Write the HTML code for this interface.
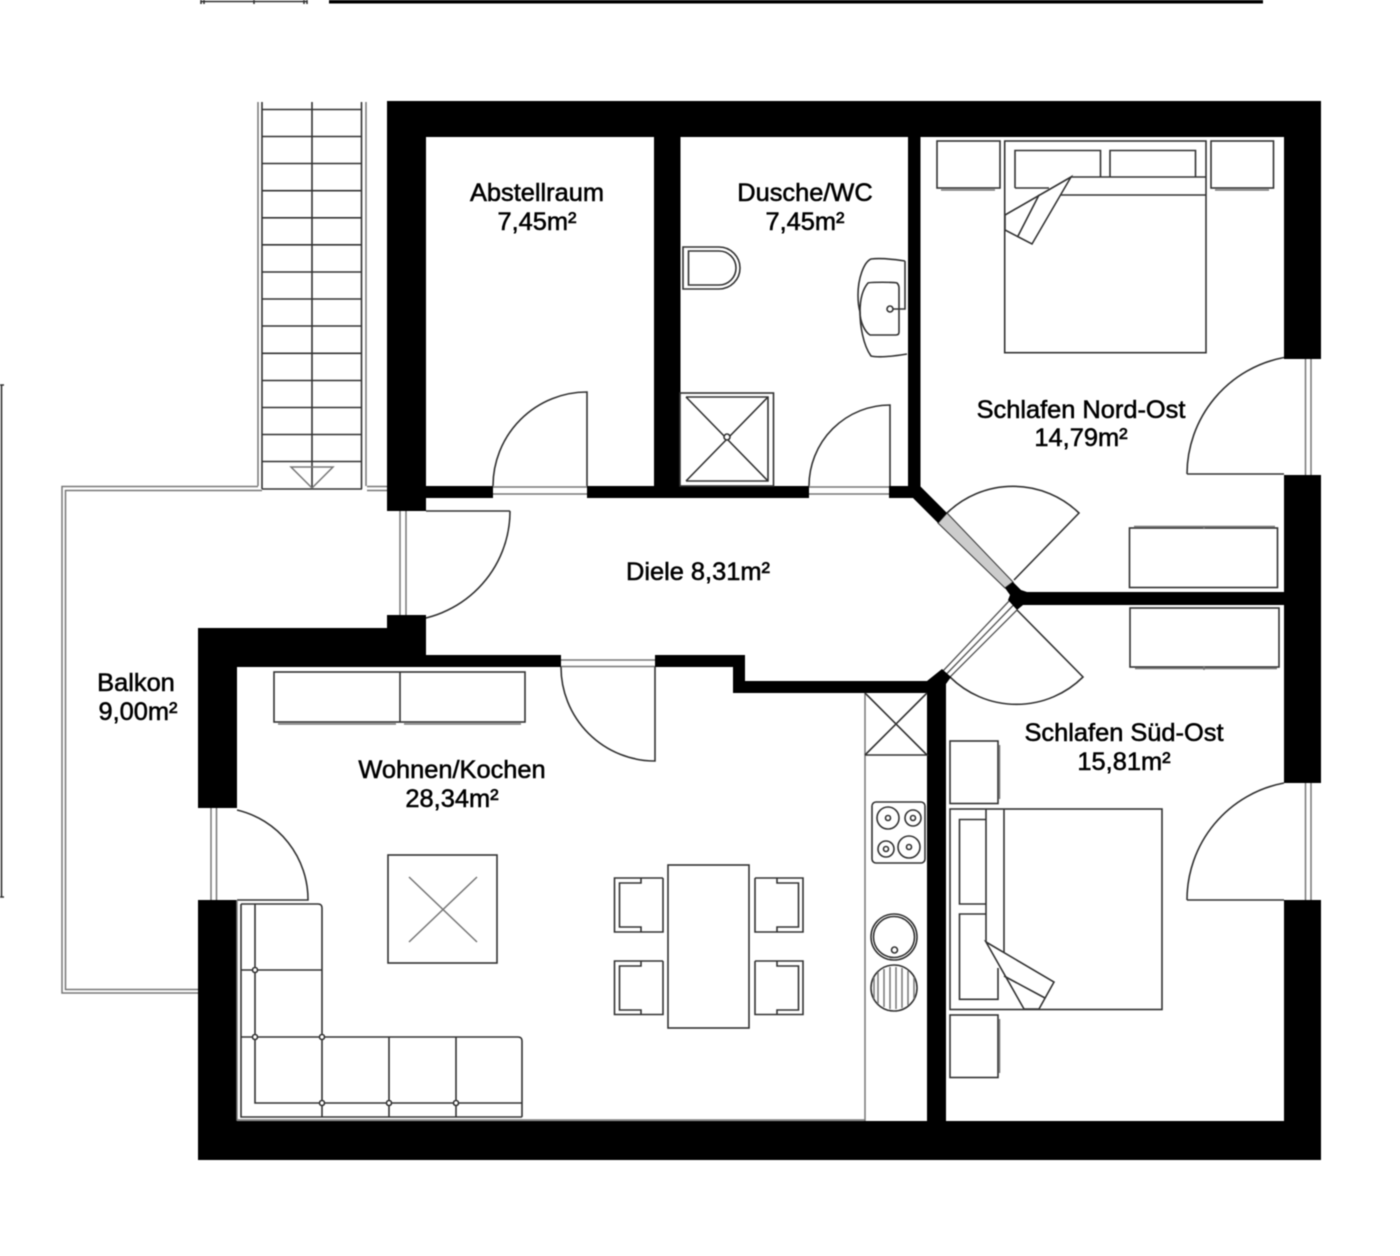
<!DOCTYPE html>
<html lang="de">
<head>
<meta charset="utf-8">
<title>Grundriss</title>
<style>
html,body{margin:0;padding:0;background:#fff;}
svg{display:block;filter:blur(.4px);}
text{font-family:"Liberation Sans",sans-serif;font-size:25.4px;fill:#000;stroke:#000;stroke-width:.55;text-anchor:middle;}
.l{fill:none;stroke:#333;stroke-width:1.6;}
.g{fill:none;stroke:#777;stroke-width:1.5;}
.f{fill:#fff;stroke:#333;stroke-width:1.6;}
</style>
</head>
<body>
<svg width="1400" height="1256" viewBox="0 0 1400 1256" xmlns="http://www.w3.org/2000/svg">
<rect width="1400" height="1256" fill="#fff"/>

<!-- top remnants -->
<rect x="329" y="0" width="934" height="3.5" fill="#000"/>
<path class="l" d="M201 1.5H307M201 0V4M204 0V4M254 0V4M304 0V4M307 0V4"/>
<path class="l" d="M1.5 385V897M0 385H4M0 897H4"/>

<!-- balcony -->
<path class="g" d="M258 486.5H62V993H198M262 490.5H65.5V989.5H198"/>
<path class="g" d="M367 486.5H387M367 490.5H387"/>

<!-- stairs -->
<path class="g" d="M258 102V486M366 102V486"/>
<path class="l" d="M262 102V489M361.500 102V489M312 102V489M262 489H362"/>
<path class="l" d="M262 109.500H362M262 136.500H362M262 163.500H362M262 190.700H362M262 217.800H362M262 244.800H362M262 272H362M262 299H362M262 326H362M262 353.300H362M262 380.500H362M262 407.500H362M262 434.500H362M262 461.500H362"/>
<path class="g" d="M291 467H333L312 488Z"/>

<!-- door frames / windows -->
<path class="g" d="M1305.500 359V475M1311 359V475M1305.500 783V900M1311 783V900"/>
<path class="g" d="M400 511V615M406 511V615"/>
<path class="g" d="M211 808V900M216.500 808V900"/>
<path class="g" d="M493 487H587M493 494H587M809 487H890M809 494H890M561 660H655M561 666.500H655"/>
<polygon points="947,513 938,523 1005,588 1013,582" fill="#ccc" stroke="#444" stroke-width="1.200"/>
<path d="M943 671 1010 600M950 677 1017 610M946.500 674 1013.500 605" fill="none" stroke="#555" stroke-width="1.300"/>

<!-- door swings -->
<path class="l" d="M1187 474A119 119 0 0 1 1284 357.500M1187 474H1284"/>
<path class="l" d="M1187 900A119 119 0 0 1 1284 783M1187 900H1284"/>
<path class="l" d="M510 511A110 110 0 0 1 402 621M426 511H510"/>
<path class="l" d="M493 486A94 94 0 0 1 587 392V486"/>
<path class="l" d="M809 486A81 81 0 0 1 890 405V498"/>
<path class="l" d="M561 667A94 94 0 0 0 655 761V667"/>
<path class="l" d="M237 810A92 92 0 0 1 308 900H237"/>
<path class="l" d="M947 513A95 95 0 0 1 1079 513L1014 580"/>
<path class="l" d="M950 677A94.500 94.500 0 0 0 1083 677L1017 610"/>

<!-- WALLS -->
<g fill="#000">
<rect x="387" y="101" width="934" height="36"/>
<rect x="387" y="101" width="39" height="410"/>
<rect x="654" y="137" width="26.500" height="361"/>
<rect x="908" y="137" width="12.500" height="361"/>
<rect x="1284" y="101" width="37" height="258"/>
<rect x="1284" y="475" width="37" height="308"/>
<rect x="1284" y="900" width="37" height="260"/>
<rect x="198" y="1121" width="1123" height="39"/>
<rect x="198" y="900" width="39" height="260"/>
<rect x="198" y="628" width="39" height="180"/>
<rect x="198" y="628" width="228" height="39"/>
<rect x="387" y="615" width="39" height="52"/>
<rect x="426" y="655" width="135" height="12"/>
<rect x="655" y="655" width="90" height="12"/>
<rect x="733" y="655" width="12" height="38"/>
<rect x="733" y="681" width="212" height="12"/>
<rect x="927" y="681" width="19" height="440"/>
<polygon points="927,681 942,669 951,677 946,684"/>
<rect x="426" y="486" width="67" height="12"/>
<rect x="587" y="486" width="222" height="12"/>
<rect x="889" y="486" width="31" height="12"/>
<polygon points="920,486 947,513 938,523 913,498 908,498 908,486"/>
<rect x="1018" y="592" width="266" height="13"/>
<polygon points="1013,582 1005,588 1010,595 1008,600 1017,610 1023,605 1027,592 1021,590"/>
</g>

<!-- toilet -->
<path class="l" d="M683 247H719A21 21 0 0 1 719 289H683Z"/>
<path class="l" d="M688.500 251H719A17 17 0 0 1 719 285H688.500Z"/>

<!-- basin -->
<path class="l" d="M905 261C892 259 880 258 871 259C864 262 858 278 858 295C858 305 860 312 860 312C860 325 863 345 871 356C880 358 895 356 907 354"/>
<path class="l" d="M860 312C860 300 862 290 868 283C870 282 895 282 897 283C898 284 899 285 899 288V332C899 334 898 335 896 335H870C865 332 860 322 860 312Z"/>
<path class="l" d="M905 261V309H893"/>
<circle class="l" cx="890" cy="309" r="3"/>

<!-- shower -->
<rect class="l" x="680" y="393" width="93.500" height="93"/>
<path class="l" d="M686 397H768V481H686M686 397 768 481M768 397 686 481"/>
<circle class="f" cx="727" cy="437" r="3"/>

<!-- bedroom NE -->
<rect class="l" x="1004.700" y="141" width="201.300" height="211.700"/>
<path class="l" d="M1071 177H1206M1039 195H1206"/>
<path class="l" d="M1015 188V150.500H1100.500V177M1110 177V150.500H1195.500V177M1015 188H1049"/>
<polygon class="f" points="1071,177 1005,215 1005,230 1032,244"/>
<path class="l" d="M1039 195 1018 236"/>
<rect class="l" x="937" y="141" width="63" height="47"/>
<rect class="l" x="1211" y="141" width="62.500" height="47"/>
<path class="g" d="M941 190H995M1215 190H1269"/>
<rect class="l" x="1129.500" y="528" width="148" height="59.500"/>
<path class="g" d="M1134 526.500H1275M1204 526V529"/>
<rect class="l" x="1130" y="608" width="149" height="59"/>
<path class="g" d="M1135 668.500H1277M1204 666V670"/>

<!-- bedroom SE -->
<rect class="l" x="950" y="809" width="212" height="200.500"/>
<path class="l" d="M986 809V942M1004 809V952"/>
<path class="l" d="M986 819.500H959.500V904H986M986 914H959.500V999.300H998V968"/>
<polygon class="f" points="986,942 1054,982 1039,1009 1024,1009"/>
<path class="l" d="M1004 976 1045 998"/>
<rect class="l" x="950" y="741" width="48" height="62.500"/>
<rect class="l" x="950" y="1015" width="48" height="62.500"/>
<path class="g" d="M999.500 745V799M999.500 1019V1073"/>

<!-- kitchen -->
<path class="g" d="M865 693V1121"/>
<path class="l" d="M865 755H927L865 693M927 693 865 755"/>
<rect class="l" x="872" y="802" width="53" height="61" rx="4"/>
<circle class="l" cx="888" cy="818" r="11"/><circle class="l" cx="888" cy="818" r="2.500"/>
<circle class="l" cx="913" cy="818" r="8"/><circle class="l" cx="913" cy="818" r="2.500"/>
<circle class="l" cx="886" cy="849" r="8"/><circle class="l" cx="886" cy="849" r="2.500"/>
<circle class="l" cx="909" cy="847" r="11"/><circle class="l" cx="909" cy="847" r="2.500"/>
<circle class="l" cx="894" cy="937" r="23"/>
<circle class="l" cx="894" cy="937" r="20.500"/>
<circle class="l" cx="894.500" cy="950" r="3"/>
<circle class="l" cx="894" cy="988" r="23"/>
<path class="g" d="M878 972V1004M884 969V1007M890 967V1009M896 967V1009M902 968V1008M908 971V1005M914 977V999M874 977V999"/>

<!-- living: sideboard -->
<rect class="l" x="274" y="672" width="251" height="50"/>
<path class="l" d="M400 672V722"/>
<path class="g" d="M278 724H396M404 724H521"/>

<!-- coffee table -->
<rect class="l" x="388" y="855" width="109" height="108"/>
<path class="g" d="M409 877 477 942M477 877 409 942"/>

<!-- dining -->
<rect class="l" x="668" y="865" width="81" height="163"/>
<path class="l" d="M663 878H614.500V932H663V878M641 878V883H619.500V927H641V932"/>
<path class="l" d="M663 961H614.500V1014.500H663V961M641 961V966H619.500V1010H641V1014.500"/>
<path class="l" d="M755 878H803V932H755V878M777 878V883H798.500V927H777V932"/>
<path class="l" d="M755 961H803V1014.500H755V961M777 961V966H798.500V1010H777V1014.500"/>

<!-- sofa -->
<path class="l" d="M241 904H318Q322 904 322 908V1117M241 904V1117H522M255 904V1103H522M241 970H322M241 1037H518Q522 1037 522 1041V1117M389 1037V1117M456 1037V1117"/>
<circle class="f" cx="255" cy="970" r="2.500"/><circle class="f" cx="255" cy="1037" r="2.500"/>
<circle class="f" cx="322" cy="1037" r="2.500"/><circle class="f" cx="322" cy="1103" r="2.500"/>
<circle class="f" cx="389" cy="1103" r="2.500"/><circle class="f" cx="456" cy="1103" r="2.500"/>
<path class="g" d="M237 900V1120H865"/>

<!-- labels -->
<text x="537" y="201">Abstellraum</text>
<text x="537" y="230">7,45m²</text>
<text x="805" y="201">Dusche/WC</text>
<text x="805" y="230">7,45m²</text>
<text x="1081" y="418">Schlafen Nord-Ost</text>
<text x="1081" y="446">14,79m²</text>
<text x="698" y="580">Diele 8,31m²</text>
<text x="1124" y="741">Schlafen Süd-Ost</text>
<text x="1124" y="770">15,81m²</text>
<text x="452" y="778">Wohnen/Kochen</text>
<text x="452" y="807">28,34m²</text>
<text x="136" y="691">Balkon</text>
<text x="138" y="720">9,00m²</text>
</svg>
</body>
</html>
